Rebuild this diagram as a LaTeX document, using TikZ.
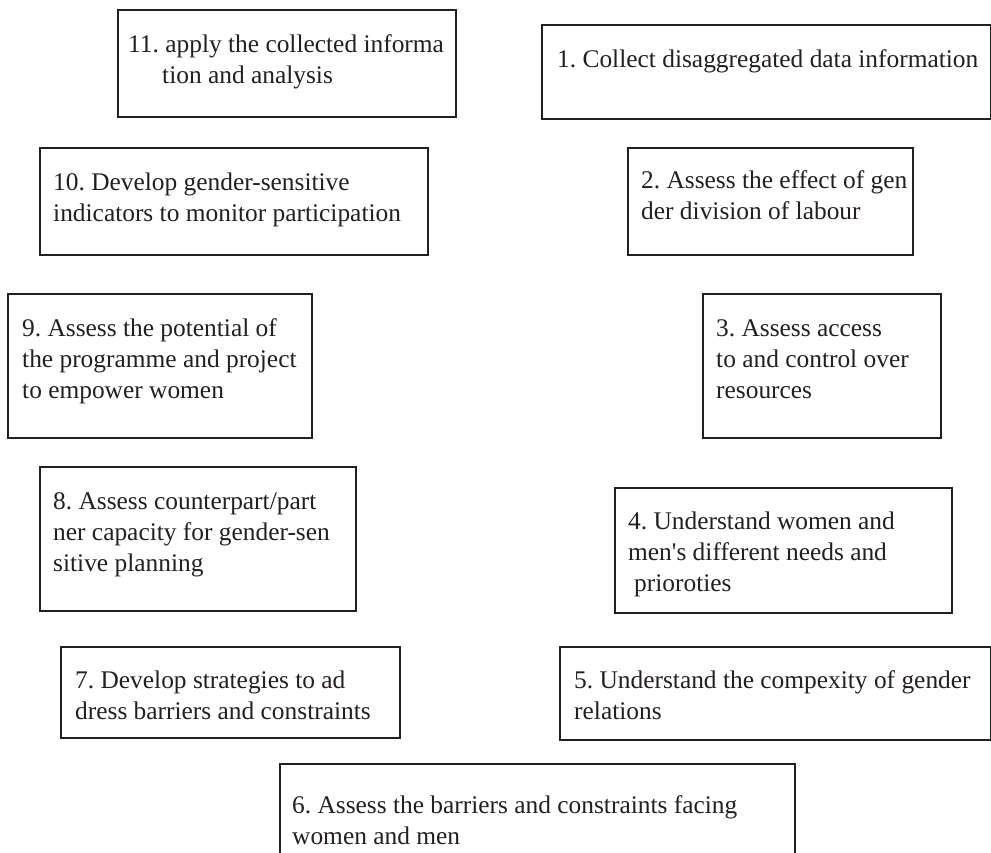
\documentclass[tikz,border=0pt]{standalone}
\usepackage{fontspec}
\setmainfont{Liberation Serif}
\frenchspacing
\definecolor{ink}{HTML}{231F20}
\tikzset{
  stepbox/.style={draw=ink, line width=2pt, anchor=north west, inner sep=0pt},
  steptext/.style={anchor=base west, align=left, inner sep=0pt, text=ink,
    font=\fontsize{25.4}{31}\selectfont},
}

\begin{document}
\begin{tikzpicture}[x=1pt,y=-1pt]
	\useasboundingbox (0,0) rectangle (991,853);
	% left column (text placed at the baseline of its last line)
	\node[stepbox, minimum width=338pt, minimum height=107pt] (b11) at (117,9) {};
	\node[steptext] (t11) at (128,84) {11. apply the collected informa\\\hspace*{34pt}tion and analysis};
	\node[stepbox, minimum width=388pt, minimum height=107pt] (b10) at (39,147) {};
	\node[steptext] (t10) at (53,222) {10. Develop gender-sensitive\\indicators to monitor participation};
	\node[stepbox, minimum width=304pt, minimum height=144pt] (b9) at (7,293) {};
	\node[steptext] (t9) at (22,398) {9. Assess the potential of\\the programme and project\\to empower women};
	\node[stepbox, minimum width=316pt, minimum height=144pt] (b8) at (39,466) {};
	\node[steptext] (t8) at (53,571) {8. Assess counterpart/part\\ner capacity for gender-sen\\sitive planning};
	\node[stepbox, minimum width=339pt, minimum height=91pt] (b7) at (60,646) {};
	\node[steptext] (t7) at (75,719) {7. Develop strategies to ad\\dress barriers and constraints};
	% right column
	\node[stepbox, minimum width=449pt, minimum height=94pt] (b1) at (541,24) {};
	\node[steptext] (t1) at (557,68) {1. Collect disaggregated data information};
	\node[stepbox, minimum width=285pt, minimum height=107pt] (b2) at (627,147) {};
	\node[steptext] (t2) at (641,220) {2. Assess the effect of gen\\der division of labour};
	\node[stepbox, minimum width=238pt, minimum height=144pt] (b3) at (702,293) {};
	\node[steptext] (t3) at (716,398) {3. Assess access\\to and control over\\resources};
	\node[stepbox, minimum width=337pt, minimum height=125pt] (b4) at (614,487) {};
	\node[steptext] (t4) at (628,591) {4. Understand women and\\men\textquotesingle s different needs and\\\hspace*{6pt}prioroties};
	\node[stepbox, minimum width=431pt, minimum height=93pt] (b5) at (559,646) {};
	\node[steptext] (t5) at (574,719) {5. Understand the compexity of gender\\relations};
	% bottom
	\node[stepbox, minimum width=515pt, minimum height=110pt] (b6) at (279,763) {};
	\node[steptext] (t6) at (292,844) {6. Assess the barriers and constraints facing\\women and men};
\end{tikzpicture}
\end{document}
